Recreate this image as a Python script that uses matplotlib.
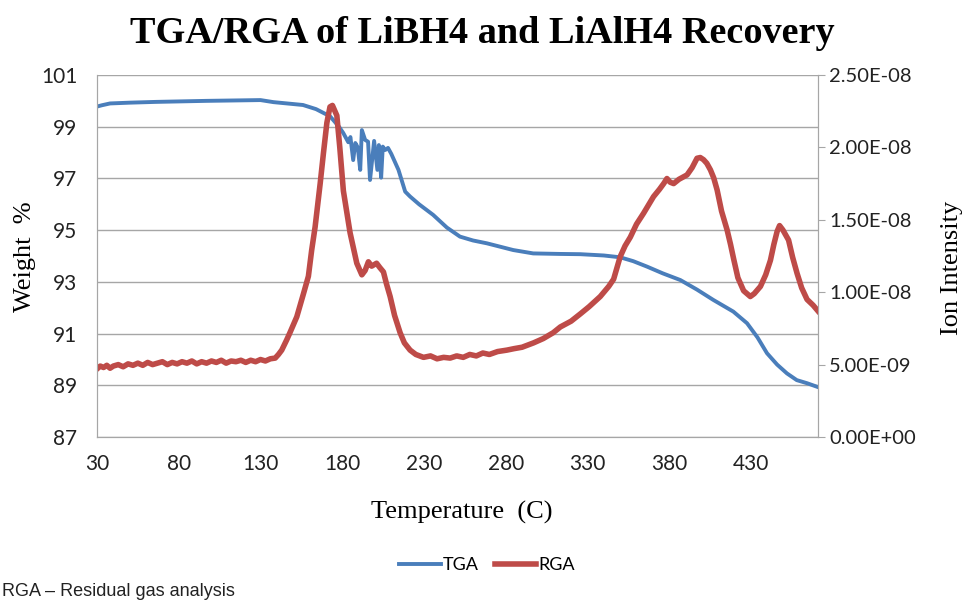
import numpy as np
import matplotlib
matplotlib.use('Agg')
import matplotlib.pyplot as plt
from matplotlib.ticker import FuncFormatter

# TGA: temperature (C) vs weight %
tga_temp = [30, 33, 38, 50, 66, 97, 130, 138, 156, 164, 172.6, 178, 180.6, 183.7, 185, 186.7,
            188, 189.5, 191, 192, 194, 195.8, 197, 199.5, 201.5, 202.4, 203.8, 204.8, 206.3, 208,
            210, 214.4, 218.5, 221.5, 227, 235.6, 244, 252, 260, 268.5, 284.6, 296.8, 313, 325.6,
            340, 350, 358, 366.4, 376, 386.8, 397, 407, 419.2, 427.6, 434, 439.8, 446, 452, 458,
            464.3, 471]
tga_weight = [99.78, 99.83, 99.9, 99.93, 99.96, 100.0, 100.03, 99.95, 99.84, 99.68, 99.4, 99.0,
              98.76, 98.4, 98.6, 97.71, 98.37, 98.2, 97.33, 98.87, 98.49, 98.42, 96.94, 98.45,
              97.33, 98.29, 97.03, 98.23, 98.1, 98.18, 97.95, 97.33, 96.49, 96.3, 96.0, 95.59,
              95.1, 94.75, 94.6, 94.49, 94.23, 94.1, 94.08, 94.07, 94.02, 93.95, 93.8, 93.59,
              93.33, 93.07, 92.7, 92.3, 91.85, 91.4, 90.85, 90.24, 89.8, 89.46, 89.2, 89.08, 88.93]

# RGA: temperature (C) vs ion intensity (x 1e-9)
rga_temp = [30, 32, 34, 36, 38, 40, 43, 46, 49, 52, 55, 58, 61, 64, 67, 70, 73, 76, 79, 82, 85,
            88, 91, 94, 97, 100, 103, 106, 109, 112, 115, 118, 121, 124, 127, 130, 133, 136, 139,
            141, 143, 146, 148, 152.2, 156.3, 159.3, 161.3, 163.4, 165.4, 166.5, 168.5, 170.6,
            172.5, 174, 176.7, 178.5, 180.7, 184.8, 188.9, 192, 194, 196, 198, 201, 203, 205.2,
            207, 209.3, 212, 215.4, 218, 221.5, 225, 229.7, 234, 238, 242, 246, 250, 254, 258,
            262, 266, 270, 275, 280.7, 285, 290, 297, 303, 309, 313.4, 320, 325.6, 331, 337.8,
            343, 346, 350, 353, 356.2, 360, 364.3, 370.4, 374, 376.6, 378.6, 380.5, 382.7, 386,
            390.9, 394, 397, 399, 401, 403, 405.2, 407.2, 409.3, 412, 415.4, 417.5, 419.4, 422,
            425.5, 429.6, 432, 435.8, 439, 441.9, 444, 446, 447.5, 449.5, 453, 455.5, 458.2, 461,
            464.3, 468, 471]
rga_ion = [4.7, 4.9, 4.8, 4.95, 4.75, 4.9, 5.0, 4.85, 5.05, 4.95, 5.1, 4.95, 5.15, 5.0, 5.1, 5.2,
           5.0, 5.15, 5.05, 5.2, 5.1, 5.25, 5.05, 5.2, 5.1, 5.25, 5.15, 5.3, 5.1, 5.25, 5.2, 5.3,
           5.15, 5.3, 5.2, 5.35, 5.25, 5.4, 5.45, 5.7, 6.0, 6.7, 7.2, 8.3, 9.9, 11.1, 12.9, 14.5,
           16.4, 17.5, 19.6, 21.7, 22.8, 22.9, 22.2, 20.0, 17.0, 14.1, 12.0, 11.2, 11.5, 12.1,
           11.8, 12.0, 11.7, 11.4, 10.6, 9.7, 8.4, 7.2, 6.5, 6.0, 5.7, 5.5, 5.6, 5.4, 5.5, 5.45,
           5.6, 5.5, 5.7, 5.6, 5.8, 5.7, 5.9, 6.0, 6.1, 6.2, 6.5, 6.8, 7.2, 7.6, 8.0, 8.5, 9.0,
           9.7, 10.4, 10.9, 12.45, 13.2, 13.8, 14.7, 15.45, 16.6, 17.1, 17.5, 17.85, 17.6, 17.5,
           17.8, 18.1, 18.6, 19.25, 19.3, 19.15, 18.9, 18.45, 17.9, 17.06, 15.6, 14.3, 13.3,
           12.3, 11.0, 10.1, 9.7, 9.9, 10.4, 11.2, 12.2, 13.3, 14.2, 14.6, 14.3, 13.6, 12.4,
           11.3, 10.3, 9.5, 9.1, 8.7]

x_ticks = [30, 80, 130, 180, 230, 280, 330, 380, 430]
w_ticks = [87, 89, 91, 93, 95, 97, 99, 101]
ion_ticks = [0, 0.5e-8, 1.0e-8, 1.5e-8, 2.0e-8, 2.5e-8]

blue = '#4A7EBB'
red = '#BE4B48'
grid_c = '#A6A6A6'

fig = plt.figure(figsize=(9.65, 6.02), dpi=100)
ax = fig.add_axes([97 / 965, 1 - 437 / 602, 721 / 965, 362 / 602])
ax2 = ax.twinx()

l1, = ax.plot(tga_temp, tga_weight, color=blue, lw=2.8, label='TGA', solid_joinstyle='round')
l2, = ax2.plot(rga_temp, np.array(rga_ion) * 1e-9, color=red, lw=4.0, label='RGA',
               solid_joinstyle='round')

ax.set_xlim(30, 471)
ax.set_ylim(87, 101)
ax2.set_ylim(0, 2.5e-8)
ax.set_xticks(x_ticks)
ax.set_yticks(w_ticks)
ax2.set_yticks(ion_ticks)
ax2.yaxis.set_major_formatter(FuncFormatter(lambda v, p: '{:.2E}'.format(v)))

ax.grid(axis='y', color=grid_c, lw=1)
ax.set_axisbelow(True)
for a in (ax, ax2):
    for s in a.spines.values():
        s.set_color(grid_c)
    a.spines['top'].set_visible(False)

tick_font = 'Lato'
ax.tick_params(axis='y', length=0, pad=14, labelsize=15, labelcolor='#222222')
ax.tick_params(axis='x', length=0, pad=12, labelsize=15, labelcolor='#222222')
ax2.tick_params(axis='y', length=5, color=grid_c, pad=3, labelsize=14.5, labelcolor='#222222')
for lab in ax.get_xticklabels() + ax.get_yticklabels() + ax2.get_yticklabels():
    lab.set_fontfamily(tick_font)

serif = 'Liberation Serif'
fig.text(0.5, 0.945, 'TGA/RGA of LiBH4 and LiAlH4 Recovery', ha='center', va='center',
         fontsize=27.5, fontweight='bold', family=serif)
fig.text(25 / 965, 1 - 257 / 602, 'Weight  %', rotation=90, ha='center', va='center',
         fontsize=19, family=serif)
fig.text(952 / 965, 1 - 268 / 602, 'Ion Intensity', rotation=90, ha='center', va='center',
         fontsize=19, family=serif)
fig.text(462 / 965, 1 - 512 / 602, 'Temperature  (C)', ha='center', va='center',
         fontsize=19, family=serif)

fig.legend(handles=[l1, l2], loc='center', bbox_to_anchor=(487 / 965, 1 - 565 / 602), ncol=2,
           frameon=False, prop={'family': tick_font, 'size': 13}, handlelength=2.3,
           handletextpad=0.1, columnspacing=0.9)

fig.text(2 / 965, 1 - 592 / 602, 'RGA \u2013 Residual gas analysis', ha='left', va='center',
         fontsize=13, family='Liberation Sans', color='#222222')

fig.savefig('out.png', dpi=100)
